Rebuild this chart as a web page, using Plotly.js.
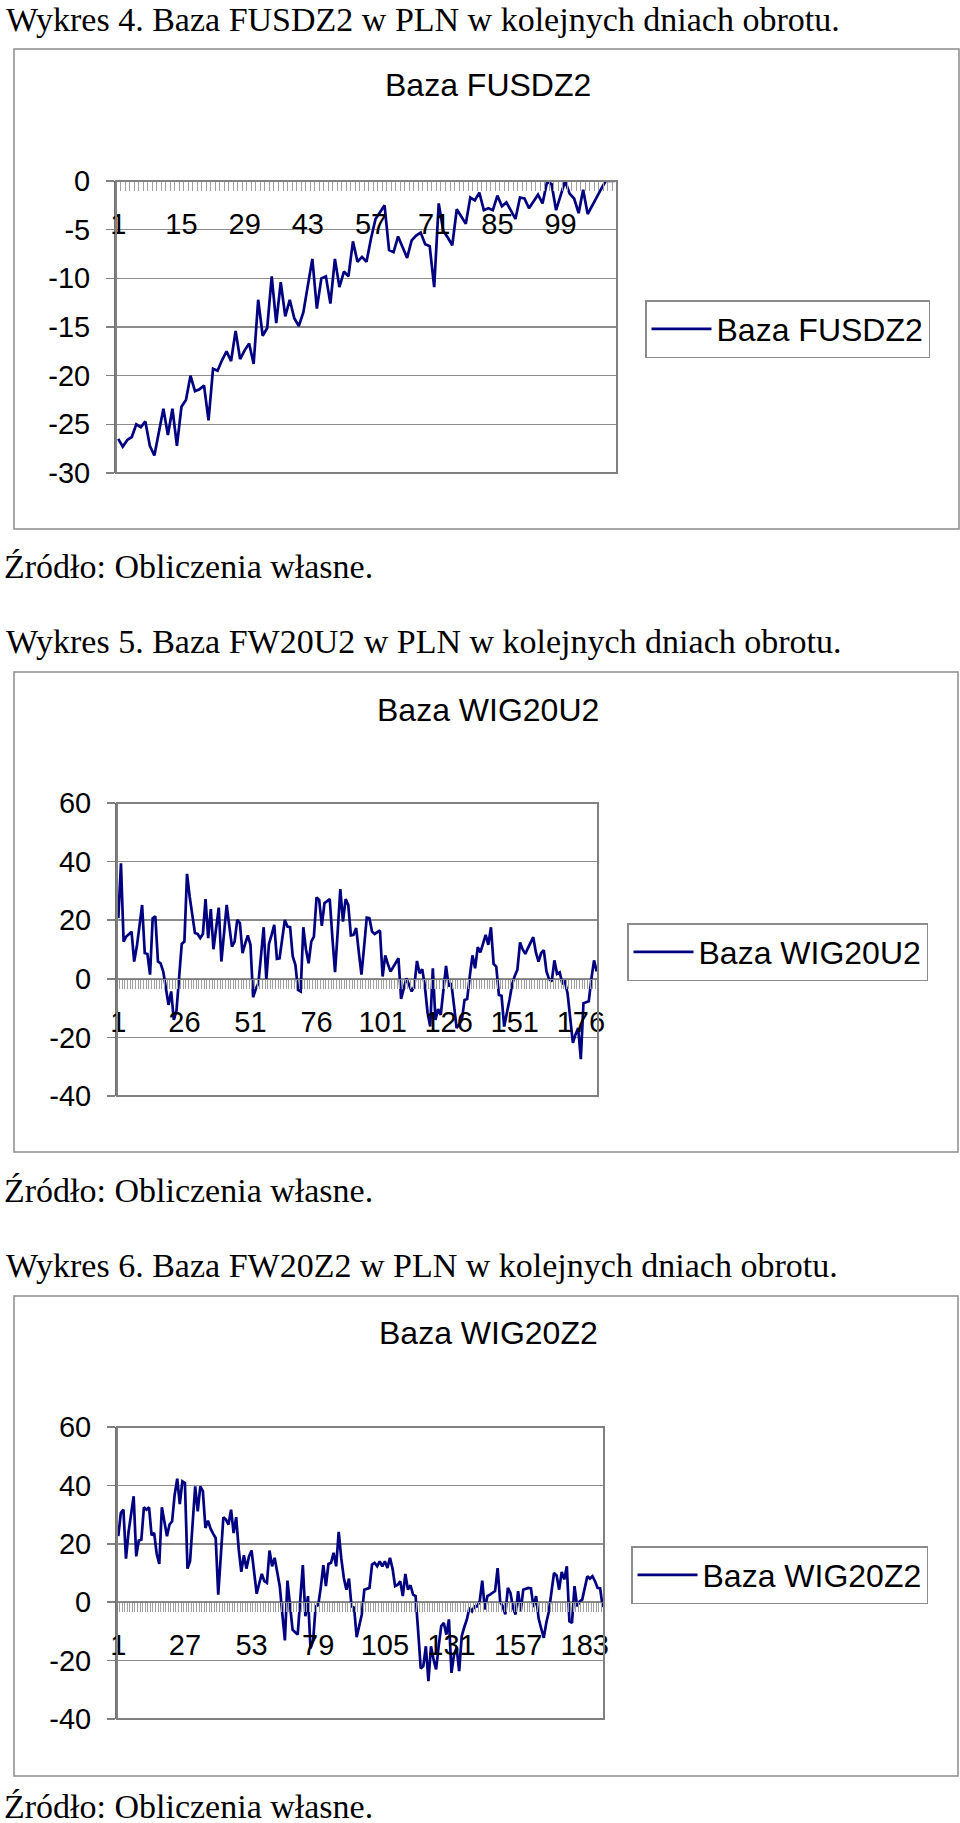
<!DOCTYPE html>
<html>
<head>
<meta charset="utf-8">
<script src="https://cdn.plot.ly/plotly-3.0.1.min.js"></script>
<style>
  body { margin: 0; background: #fff; }
  #chart { width: 960px; height: 1823px; }
</style>
</head>
<body>
<div id="chart"></div>
<script>
// Wykres 4 - Baza FUSDZ2 (111 dni obrotu)
var bazaFUSDZ2 = [
  -26.5, -27.3, -26.6, -26.3, -25.0, -25.3, -24.7, -27.2, -28.2, -25.8,
  -23.4, -26.1, -23.4, -27.2, -23.2, -22.5, -20.0, -21.6, -21.4, -21.0,
  -24.6, -19.3, -19.5, -18.4, -17.5, -18.5, -15.4, -18.3, -17.4, -16.7,
  -18.8, -12.2, -15.9, -15.1, -9.8, -14.6, -10.4, -13.9, -12.2, -14.1,
  -14.9, -13.5, -10.8, -8.0, -13.1, -10.0, -9.8, -12.6, -8.0, -10.9,
  -9.3, -9.8, -6.2, -8.3, -7.8, -8.3, -5.9, -3.9, -3.2, -2.5,
  -7.1, -7.3, -5.7, -6.8, -7.9, -6.1, -5.6, -5.3, -6.5, -6.7,
  -10.9, -2.3, -5.1, -5.8, -6.6, -2.9, -3.7, -4.4, -1.7, -2.0,
  -1.2, -3.0, -2.8, -3.0, -1.5, -2.6, -2.2, -3.0, -3.9, -1.7,
  -1.8, -2.8, -2.1, -1.4, -2.3, -0.1, -0.3, -3.0, -1.5, 0,
  -1.3, -1.8, -3.3, -0.9, -3.4, -2.5, -1.7, -0.8, 0, 0, 0
];

// Wykres 5 - Baza WIG20U2 (182 dni obrotu)
var bazaWIG20U2 = [
  20.7, 39.4, 12.7, 14.4, 15.2, 16.1, 5.9, 11.0, 18.0, 25.2,
  8.8, 8.5, 1.4, 20.7, 21.3, 5.9, 5.3, 2.5, -3.2, -8.9,
  -4.3, -14.0, -11.0, 2.0, 11.9, 12.7, 35.8, 28.0, 21.0, 15.6,
  15.3, 13.9, 15.3, 27.2, 13.9, 23.8, 10.1, 17.0, 24.3, 5.9,
  15.0, 25.2, 18.0, 11.0, 12.7, 20.1, 19.0, 8.8, 12.0, 14.8,
  11.6, -6.3, -3.5, -1.5, 8.0, 17.6, -0.3, 11.9, 15.0, 18.4,
  6.8, 7.0, 13.5, 20.1, 17.8, 17.6, 7.6, 4.8, -3.8, -4.3,
  17.6, 10.0, 5.3, 12.7, 14.4, 27.8, 26.9, 18.1, 25.8, 26.5,
  27.2, 14.0, 2.3, 16.0, 30.6, 19.5, 27.2, 25.2, 14.8, 15.0,
  17.3, 9.0, 1.4, 11.0, 20.9, 20.7, 16.1, 15.3, 15.8, 16.5,
  0.8, 8.0, 5.0, 2.5, 4.0, 5.5, 7.0, -6.9, -3.0, 0.2,
  -2.0, -4.3, -2.6, 6.1, 1.9, 3.3, -2.6, -11.5, -16.3, 3.6,
  -14.0, -10.3, -12.3, -4.0, 4.4, -2.6, -1.5, -9.0, -16.8, -15.5,
  -14.0, -7.2, -6.9, 1.0, 8.0, 3.6, 10.8, 9.0, 11.9, 15.0,
  11.6, 17.6, 5.1, 4.2, -5.5, -5.8, -16.3, -12.0, -7.2, -2.0,
  1.0, 3.1, 12.4, 10.0, 8.5, 10.5, 12.5, 14.2, 9.0, 5.9,
  8.8, 9.8, 2.5, -0.1, -0.9, 6.3, 1.7, 2.2, -1.5, -0.9,
  -5.1, -14.0, -21.9, -19.0, -16.8, -27.4, -8.3, -8.0, -7.7, 0.0,
  6.3, 2.5
];

// Wykres 6 - Baza WIG20Z2 (190 dni obrotu)
var bazaWIG20Z2 = [
  22.6, 30.6, 31.7, 14.9, 24.0, 31.1, 36.3, 15.7, 21.1, 21.4,
  32.5, 31.7, 32.5, 22.9, 23.7, 16.5, 13.1, 32.5, 27.0, 22.6,
  26.6, 27.7, 36.8, 42.3, 33.6, 41.4, 40.8, 11.5, 14.0, 27.0,
  39.7, 31.1, 39.7, 38.0, 25.4, 27.9, 25.2, 23.5, 22.0, 2.6,
  16.0, 29.1, 28.3, 26.6, 31.7, 23.7, 29.1, 18.0, 10.4, 16.1,
  11.5, 15.7, 17.7, 10.0, 2.9, 6.5, 9.7, 7.2, 6.6, 17.7,
  12.3, 15.2, 10.0, 5.5, -4.0, -13.1, 7.4, -1.0, -9.4, -10.3,
  -11.1, 1.0, 12.7, -4.8, 2.1, -15.8, -13.3, -1.4, -1.0, 5.0,
  12.7, 5.5, 13.1, 13.5, 16.9, 12.3, 24.1, 15.0, 8.3, 4.3,
  8.1, -1.4, -1.9, -12.0, -8.0, -4.2, 4.3, 4.6, 4.9, 12.9,
  13.5, 12.3, 14.0, 12.3, 14.0, 11.7, 15.2, 11.5, 5.5, 6.0,
  7.2, 2.1, 9.7, 4.3, 5.8, 2.6, 2.1, -10.0, -22.7, -21.9,
  -15.1, -27.0, -15.1, -19.6, -23.0, -15.0, -8.2, -7.1, -11.1, -5.9,
  -24.2, -17.9, -15.6, -23.6, -11.6, -8.5, -5.9, -1.9, -3.1, -1.4,
  -1.4, 0.3, 7.4, -2.5, 2.1, 2.6, 3.2, 3.8, 11.7, 0.1,
  -1.4, -4.2, 4.9, 3.2, -1.9, -4.2, 3.8, -3.1, 4.3, 4.7,
  4.9, 4.7, -1.7, 2.1, -5.6, -9.0, -12.2, -7.0, -3.1, 3.5,
  10.0, 9.2, 4.3, 10.4, 7.8, 12.3, -6.5, -7.1, 5.5, -1.4,
  0.3, 0.9, 5.0, 8.9, 8.1, 8.9, 7.2, 4.9, 4.7, -1.7
];

var seriesNames = ["Baza FUSDZ2", "Baza WIG20U2", "Baza WIG20Z2"];
var headers = [
  "Wykres 4. Baza FUSDZ2 w PLN w kolejnych dniach obrotu.",
  "Wykres 5. Baza FW20U2 w PLN w kolejnych dniach obrotu.",
  "Wykres 6. Baza FW20Z2 w PLN w kolejnych dniach obrotu."
];
var sourceNote = "Źródło: Obliczenia własne.";
var yRanges = [[-30, 0], [-40, 60], [-40, 60]];
var ySteps = [5, 20, 20];
var xLabelSteps = [14, 25, 26];

var W = 960, H = 1823;
function px(x) { return x / W; }
function py(y) { return 1 - y / H; }

// pixel boxes of each panel (plot area, outer frame, legend, text rows)
var panels = [
  { plot: [116, 617, 181, 473], frame: [14, 959, 49, 529], legend: [645, 300], title: 85, header: 20, note: 566 },
  { plot: [117, 598, 803, 1096], frame: [14, 958, 672, 1152], legend: [627, 923], title: 710, header: 641, note: 1190 },
  { plot: [117, 604, 1427, 1719], frame: [14, 958, 1296, 1776], legend: [631, 1546], title: 1333, header: 1265, note: 1806 }
];
var allData = [bazaFUSDZ2, bazaWIG20U2, bazaWIG20Z2];

var traces = [];
var layout = {
  width: W, height: H,
  margin: { l: 0, r: 0, t: 0, b: 0 },
  paper_bgcolor: "#fff", plot_bgcolor: "#fff",
  font: { family: "Arial, Liberation Sans, sans-serif", color: "#000" },
  showlegend: true,
  shapes: [], annotations: []
};

var serif = "Liberation Serif, Times New Roman, serif";

panels.forEach(function (p, i) {
  var n = i === 0 ? "" : String(i + 1);
  var vals = allData[i];
  var idx = vals.map(function (v, k) { return k + 1; });
  var yr = yRanges[i];
  var yb = py(p.plot[3]), yt = py(p.plot[2]);
  var zeroPos = yb + (0 - yr[0]) / (yr[1] - yr[0]) * (yt - yb);

  // y tick labels with a plain hyphen like the original
  var yTicks = [];
  for (var v = yr[0]; v <= yr[1]; v += ySteps[i]) yTicks.push(v);

  traces.push({
    x: idx, y: vals, type: "scatter", mode: "lines",
    name: seriesNames[i], showlegend: true,
    xaxis: "x" + n, yaxis: "y" + n, legend: "legend" + n,
    line: { color: "#000080", width: 2.7 },
    hoverinfo: "x+y"
  });

  layout["xaxis" + n] = {
    domain: [px(p.plot[0]), px(p.plot[1])],
    anchor: "free", position: zeroPos,
    range: [0.5, vals.length + 0.5],
    tickmode: "linear", tick0: 1, dtick: xLabelSteps[i],
    ticks: "", showgrid: false, zeroline: false,
    showline: true, linecolor: "#808080", linewidth: 1,
    minor: { tick0: 0.5, dtick: 1, ticks: "outside", ticklen: 9, tickcolor: "#a0a0a0", tickwidth: 1 },
    tickfont: { size: 29, color: "#000" },
    ticklabelstandoff: 17,
    fixedrange: true
  };
  layout["yaxis" + n] = {
    domain: [yb, yt],
    anchor: "x" + n,
    range: yr,
    tickmode: "array", tickvals: yTicks,
    ticktext: yTicks.map(function (t) { return String(t); }),
    showgrid: true, gridcolor: "#8c8c8c", gridwidth: 1.5,
    zeroline: false,
    ticks: "outside", ticklen: 8, tickcolor: "#808080", tickwidth: 1.5,
    showline: true, linecolor: "#707070", linewidth: 2,
    tickfont: { size: 29, color: "#000" },
    ticklabelstandoff: 10,
    fixedrange: true
  };
  layout["legend" + n] = {
    x: px(p.legend[0]), y: py(p.legend[1]), xanchor: "left", yanchor: "top",
    xref: "paper", yref: "paper",
    bgcolor: "#fff", bordercolor: "#8c8c8c", borderwidth: 1.5,
    font: { size: 32, color: "#000" }, itemwidth: 60
  };

  // plot area border
  layout.shapes.push({
    type: "rect", xref: "x" + n + " domain", yref: "y" + n + " domain",
    x0: 0, x1: 1, y0: 0, y1: 1, line: { color: "#808080", width: 2 }
  });
  // outer chart frame
  layout.shapes.push({
    type: "rect", xref: "paper", yref: "paper",
    x0: px(p.frame[0]), x1: px(p.frame[1]), y0: py(p.frame[3]), y1: py(p.frame[2]),
    line: { color: "#8c8c8c", width: 1.5 }
  });

  layout.annotations.push({
    text: seriesNames[i], xref: "paper", yref: "paper",
    x: px(488), y: py(p.title), xanchor: "center", yanchor: "middle",
    showarrow: false, font: { size: 32, color: "#000" }
  });
  layout.annotations.push({
    text: headers[i], xref: "paper", yref: "paper",
    x: px(4), y: py(p.header), xanchor: "left", yanchor: "middle",
    showarrow: false, font: { family: serif, size: 34, color: "#000" }
  });
  layout.annotations.push({
    text: sourceNote, xref: "paper", yref: "paper",
    x: px(2), y: py(p.note), xanchor: "left", yanchor: "middle",
    showarrow: false, font: { family: serif, size: 34, color: "#000" }
  });
});

Plotly.newPlot("chart", traces, layout, { staticPlot: true });
</script>
</body>
</html>
